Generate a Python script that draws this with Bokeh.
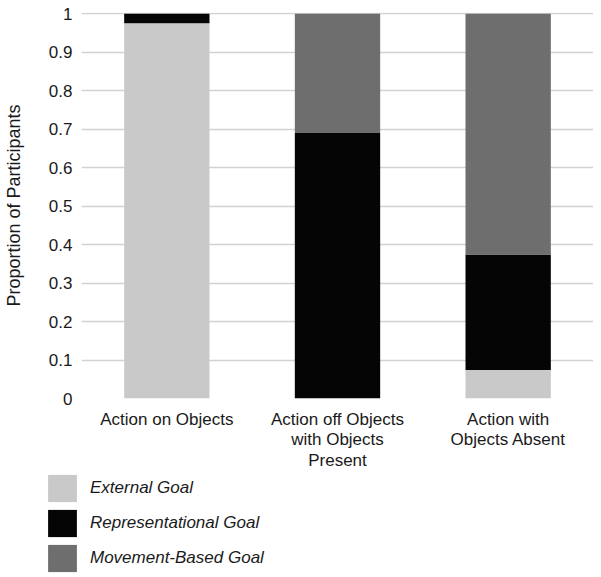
from bokeh.plotting import figure
from bokeh.layouts import column
from bokeh.models import ColumnDataSource, Range1d, FactorRange, FixedTicker, Legend, LegendItem
from bokeh.embed import file_html
from bokeh.resources import INLINE

categories = ["Action on Objects", "Action off Objects\nwith Objects\nPresent", "Action with\nObjects Absent"]
goals = ["External Goal", "Representational Goal", "Movement-Based Goal"]
external = [0.975, 0.0, 0.074]
representational = [0.025, 0.69, 0.300]
movement = [0.0, 0.31, 0.626]
colors = ["#c9c9c9", "#050505", "#6e6e6e"]
y_ticks = [0, 0.1, 0.2, 0.3, 0.4, 0.5, 0.6, 0.7, 0.8, 0.9, 1]
y_tick_labels = ["0", "0.1", "0.2", "0.3", "0.4", "0.5", "0.6", "0.7", "0.8", "0.9", "1"]

source = ColumnDataSource(dict(cat=categories, ext=external, rep=representational, mov=movement))

FONT = "Liberation Sans"
TXT = "#1a1a1a"

p = figure(x_range=FactorRange(*categories), y_range=Range1d(0, 1.003),
           frame_width=512, frame_height=386, output_backend="svg", toolbar_location=None,
           min_border_top=12, min_border_right=0, min_border_left=78, min_border_bottom=0)
p.outline_line_color = None

p.vbar_stack(["ext", "rep", "mov"], x="cat", width=0.5, source=source,
             color=colors, line_color=None)

p.xgrid.grid_line_color = None
p.ygrid.grid_line_color = "#d2d2d2"
p.ygrid.grid_line_width = 1.6

p.yaxis.ticker = FixedTicker(ticks=y_ticks)
p.yaxis.major_label_overrides = {t: l for t, l in zip(y_ticks, y_tick_labels)}
for ax in (p.xaxis[0], p.yaxis[0]):
    ax.axis_line_color = None
    ax.major_tick_line_color = None
    ax.minor_tick_line_color = None
    ax.major_label_text_font = FONT
    ax.major_label_text_color = TXT
    ax.major_label_text_font_size = "17px"
    ax.major_label_standoff = 10

p.xaxis.major_label_text_line_height = 1.08
p.xaxis.major_label_standoff = 5
p.yaxis.major_tick_out = 0
p.yaxis.major_label_standoff = 9
p.yaxis.axis_label = "Proportion of Participants"
p.yaxis.axis_label_text_font = FONT
p.yaxis.axis_label_text_font_style = "normal"
p.yaxis.axis_label_text_font_size = "18px"
p.yaxis.axis_label_text_color = TXT
p.yaxis.axis_label_standoff = 22

# legend panel below the chart
lg = figure(x_range=FactorRange(*categories), y_range=Range1d(5, 6),
            width=590, height=103, output_backend="svg", toolbar_location=None,
            x_axis_type=None, y_axis_type=None,
            min_border_top=0, min_border_right=0, min_border_left=0, min_border_bottom=0)
lg.outline_line_color = None
lg.grid.visible = False
rs = lg.vbar_stack(["ext", "rep", "mov"], x="cat", width=0.5, source=source,
                   color=colors, line_color=None)

legend_x = -33
if "frame_align" in lg.properties():
    lg.frame_align = False
    legend_x = 44

legend = Legend(items=[LegendItem(label=g, renderers=[r]) for g, r in zip(goals, rs)],
                orientation="vertical", location=(legend_x, 0))
legend.glyph_width = 36
legend.glyph_height = 34
legend.spacing = 1
legend.padding = 0
legend.margin = 0
legend.label_standoff = 10
legend.label_text_font = FONT
legend.label_text_font_style = "italic"
legend.label_text_font_size = "17px"
legend.label_text_color = TXT
legend.border_line_color = None
legend.background_fill_alpha = 0
lg.add_layout(legend, "center")

layout = column(p, lg, spacing=0)
open("out.html", "w").write(file_html(layout, INLINE))
